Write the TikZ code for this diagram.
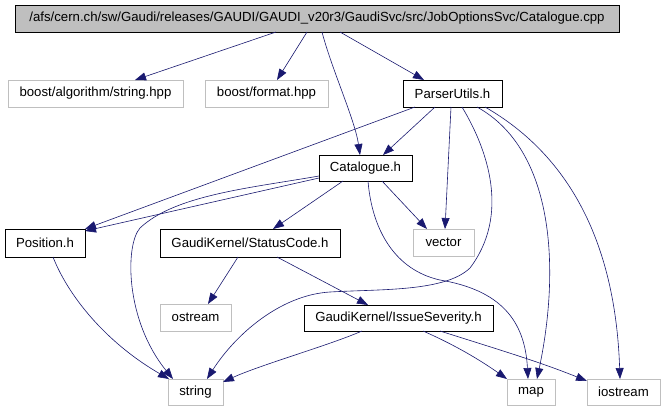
\documentclass[tikz,border=0pt]{standalone}
\usepackage{fontspec}
\setmainfont{Liberation Sans}
\usetikzlibrary{arrows.meta}
\definecolor{edgeblue}{HTML}{191970}
\definecolor{lightgrey}{HTML}{BFBFBF}
\begin{document}
\begin{tikzpicture}[x=1pt,y=-1pt,
  box/.style={draw=black,line width=0.8pt,inner sep=0pt,outer sep=0pt,minimum height=27pt,
    font=\fontsize{13.2pt}{15pt}\selectfont,anchor=center},
  ext/.style={box,draw=lightgrey},
  edge/.style={draw=edgeblue,line width=0.6pt,-{Triangle[length=11pt,width=8pt]},fill=none}]
\useasboundingbox[fill=white] (0,0) rectangle (664,410);
% nodes
\node[box,fill=lightgrey,minimum width=604pt] (root) at (317,18.5) {/afs/cern.ch/sw/Gaudi/releases/GAUDI/GAUDI\_v20r3/GaudiSvc/src/JobOptionsSvc/Catalogue.cpp};
\node[ext,minimum width=175pt] (balg) at (95.5,93.5) {boost/algorithm/string.hpp};
\node[ext,minimum width=123pt] (bfmt) at (266.5,93.5) {boost/format.hpp};
\node[box,minimum width=99pt] (parser) at (452.5,93.5) {ParserUtils.h};
\node[box,minimum width=93pt,minimum height=26pt] (cat) at (365.5,168) {Catalogue.h};
\node[box,minimum width=80pt,minimum height=28pt] (pos) at (45,243) {Position.h};
\node[box,minimum width=180pt,minimum height=28pt] (status) at (250,243) {GaudiKernel/StatusCode.h};
\node[ext,minimum width=61pt] (vector) at (443.5,242.5) {vector};
\node[ext,minimum width=71pt] (ostream) at (195.5,317.5) {ostream};
\node[box,minimum width=189pt,minimum height=26pt] (issue) at (398.5,318) {GaudiKernel/IssueSeverity.h};
\node[ext,minimum width=55pt,minimum height=26pt] (string) at (195.5,392) {string};
\node[ext,minimum width=48pt,minimum height=26pt] (map) at (531,392) {map};
\node[ext,minimum width=73pt,minimum height=26pt] (iostream) at (623.5,392) {iostream};
% edges from root
\draw[edge] ([xshift=261pt]root.south west) -- ([xshift=127pt]balg.north west);
\draw[edge] ([xshift=292pt]root.south west) -- ([xshift=72pt]bfmt.north west);
\draw[edge] ([xshift=307pt]root.south west) .. controls (332,70) and (355,120) .. ([xshift=41pt]cat.north west);
\draw[edge] ([xshift=325pt]root.south west) -- ([xshift=21pt]parser.north west);
% edges from ParserUtils.h
\draw[edge] ([xshift=32pt]parser.south west) -- ([xshift=64pt]cat.north west);
\draw[edge] ([xshift=12pt]parser.south west) -- (pos.north east);
\draw[edge] ([xshift=48pt]parser.south west) -- ([xshift=32pt]vector.north west);
\draw[edge] ([xshift=59pt]parser.south west) .. controls (488,150) and (510,215) .. (470,268)
  .. controls (445,292) and (380,289) .. (330,292)
  .. controls (280,295) and (235,335) .. ([xshift=39pt]string.north west);
\draw[edge] ([xshift=74pt]parser.south west) .. controls (555,150) and (560,270) .. ([xshift=30pt]map.north west);
\draw[edge] ([xshift=82pt]parser.south west) .. controls (560,150) and (615,230) .. ([xshift=33pt]iostream.north west);
% edges from Catalogue.h
\draw[edge] ([yshift=3pt]cat.south west) -- ([yshift=-2pt]pos.north east);
\draw[edge] ([yshift=5pt]cat.south west) .. controls (250,188) and (175,195) .. (140,228)
  .. controls (125,245) and (125,320) .. ([xshift=5pt]string.north west);
\draw[edge] ([xshift=24pt]cat.south west) -- ([xshift=113pt]status.north west);
\draw[edge] ([xshift=63pt]cat.south west) -- ([xshift=14pt]vector.north west);
\draw[edge] ([xshift=49pt]cat.south west) .. controls (372,230) and (395,270) .. (440,280)
  .. controls (500,290) and (525,320) .. ([xshift=21pt]map.north west);
% Position.h
\draw[edge] ([xshift=48pt]pos.south west) .. controls (70,300) and (110,345) .. ([xshift=1pt]string.north west);
% StatusCode.h
\draw[edge] ([xshift=78pt]status.south west) -- ([xshift=48pt]ostream.north west);
\draw[edge] ([xshift=117pt]status.south west) -- ([xshift=64pt]issue.north west);
% IssueSeverity.h
\draw[edge] ([xshift=58pt]issue.south west) .. controls (330,345) and (260,365) .. ([yshift=-3pt]string.north east);
\draw[edge] ([xshift=119pt]issue.south west) .. controls (455,345) and (480,360) .. (map.north west);
\draw[edge] ([xshift=136pt]issue.south west) .. controls (500,350) and (540,362) .. ([yshift=-2pt]iostream.north west);
\end{tikzpicture}
\end{document}
